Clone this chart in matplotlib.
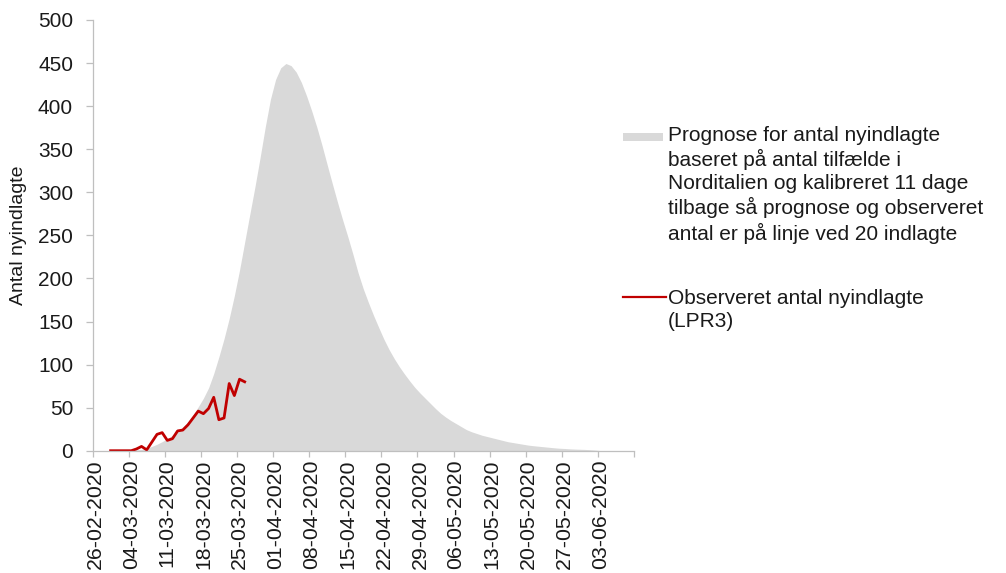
import numpy as np
import matplotlib
matplotlib.use("Agg")
import matplotlib.pyplot as plt
from matplotlib.patches import Rectangle
from matplotlib.lines import Line2D

plt.rcParams['font.family'] = ['Liberation Sans', 'DejaVu Sans']

# daily values, day 0 = 26-02-2020
prognose = [0, 0, 0, 0, 0, 0, 0, 0, 1, 1.5,
            3, 5, 7.5, 10.5, 14, 18, 22.5, 27.5, 33.5, 41.5,
            51, 61, 73, 89.5, 109, 130, 153.5, 180, 209.5, 242,
            274.5, 306.5, 340.5, 376, 408, 431, 444.5, 449.5, 447, 439.5,
            427.5, 412, 394.5, 375.5, 354.5, 332, 310, 288.5, 268, 248.5,
            228, 206.5, 188, 172, 157, 143, 129.5, 117.5, 107, 97.5,
            89, 81, 73.5, 67, 61, 55, 49, 43.5, 39, 35,
            31.5, 28, 24.5, 22, 20, 18, 16.5, 15, 13.5, 12,
            10.5, 9.5, 8.5, 7.5, 6.5, 5.8, 5.2, 4.6, 4, 3.4,
            2.9, 2.6, 2.2, 1.9, 1.7, 1.5, 1.2, 0.8, 0.2, 0]

# observed admissions from 29-02-2020 (day 3)
obs_start = 3
observeret = [0, 0, 0, 0, 0, 2, 5, 1, 10, 19,
              21, 12, 14, 23, 24, 30, 38, 46, 43, 49,
              62, 36, 38, 78, 64, 83, 80]

tick_labels = ["26-02-2020", "04-03-2020", "11-03-2020", "18-03-2020",
               "25-03-2020", "01-04-2020", "08-04-2020", "15-04-2020",
               "22-04-2020", "29-04-2020", "06-05-2020", "13-05-2020",
               "20-05-2020", "27-05-2020", "03-06-2020"]

label_prognose = ("Prognose for antal nyindlagte\n"
                  "baseret på antal tilfælde i\n"
                  "Norditalien og kalibreret 11 dage\n"
                  "tilbage så prognose og observeret\n"
                  "antal er på linje ved 20 indlagte")
label_obs = "Observeret antal nyindlagte\n(LPR3)"

GREY = "#d9d9d9"
RED = "#c00000"
AXIS = "#bfbfbf"
TEXT = "#1a1a1a"
n_days = 105

fig = plt.figure(figsize=(10.06, 5.73), dpi=100)
ax = fig.add_axes([0.092, 0.2134, 0.5382, 0.7517])

x_prog = np.arange(len(prognose)) + 0.5
ax.fill_between(x_prog, prognose, color=GREY, lw=0)
x_obs = np.arange(len(observeret)) + obs_start + 0.5
ax.plot(x_obs, observeret, color=RED, lw=2.0, solid_joinstyle='round')

ax.set_xlim(0, n_days)
ax.set_ylim(0, 500)
ax.set_yticks(np.arange(0, 501, 50))
ax.set_xticks(np.arange(0, n_days + 1, 7))
ax.set_xticklabels([])
ax.set_xticks(np.arange(len(tick_labels)) * 7 + 0.5, minor=True)
ax.set_xticklabels(tick_labels, minor=True, rotation=90)

for s in ["top", "right"]:
    ax.spines[s].set_visible(False)
for s in ["left", "bottom"]:
    ax.spines[s].set_color(AXIS)
    ax.spines[s].set_linewidth(0.9)

ax.tick_params(axis='x', which='major', length=4, width=0.9, color=AXIS)
ax.tick_params(axis='x', which='minor', length=0, pad=6.5, labelsize=15.3,
               labelcolor=TEXT)
ax.tick_params(axis='y', length=5, width=0.9, color=AXIS, pad=9,
               labelsize=15, labelcolor=TEXT)

fig.text(19 / 1006, 1 - 235 / 573, "Antal nyindlagte", rotation=90,
         ha='center', va='center', fontsize=14, color=TEXT)

# legend drawn by hand so the keys sit on the first line of each entry
fig.patches.append(Rectangle((623 / 1006, 1 - 141 / 573), 40 / 1006, 8 / 573,
                             transform=fig.transFigure, color=GREY, lw=0))
fig.text(668 / 1006, 1 - 126 / 573, label_prognose, ha='left', va='top',
         fontsize=15, color=TEXT, linespacing=1.25)
fig.lines.append(Line2D([623 / 1006, 666 / 1006], [1 - 297 / 573] * 2,
                        transform=fig.transFigure, color=RED, lw=1.6))
fig.text(668 / 1006, 1 - 289 / 573, label_obs, ha='left', va='top',
         fontsize=15, color=TEXT, linespacing=1.25)

fig.savefig("out.png", dpi=100)
